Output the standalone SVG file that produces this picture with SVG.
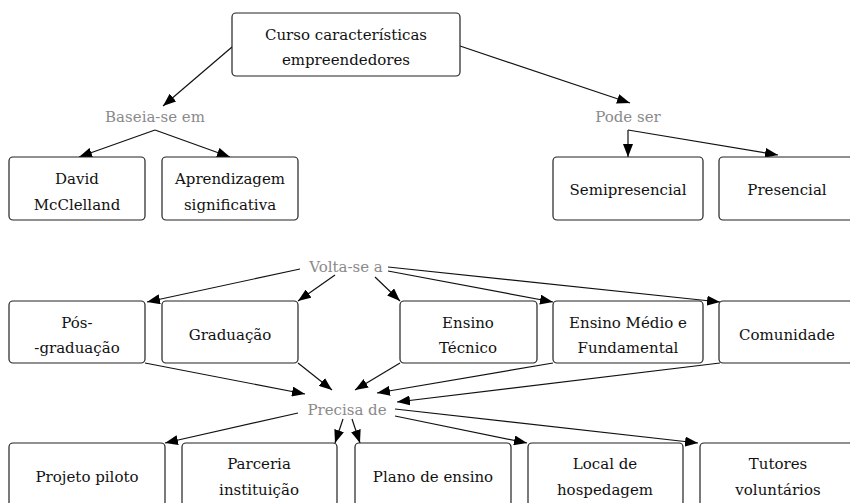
<svg xmlns="http://www.w3.org/2000/svg" width="850" height="503" viewBox="0 0 850 503">
<defs>
<marker id="ah" markerUnits="userSpaceOnUse" markerWidth="14" markerHeight="10" refX="13" refY="5" orient="auto">
<path d="M0,0 L13,5 L0,10 z" fill="#000"/>
</marker>
<style>
.box{fill:#fff;stroke:#222;stroke-width:1.2}
.t{font-family:'DejaVu Serif','Liberation Serif',serif;font-size:15px;fill:#111;text-anchor:middle}
.lbl{font-family:'DejaVu Serif','Liberation Serif',serif;font-size:15px;fill:#8a8a8a;text-anchor:middle}
.c{stroke:#111;stroke-width:1.2;fill:none;marker-end:url(#ah)}
</style>
</defs>
<rect width="850" height="503" fill="#fff"/>
<g id="connectors">
<line class="c" x1="232" y1="47" x2="163" y2="106"/>
<line class="c" x1="460" y1="46" x2="630" y2="103"/>
<line class="c" x1="155" y1="130" x2="79" y2="157"/>
<line class="c" x1="155" y1="130" x2="230" y2="157"/>
<polyline class="c" points="628,130 628,157"/>
<line class="c" x1="628" y1="130" x2="778" y2="155"/>
<line class="c" x1="300" y1="269" x2="147" y2="302"/>
<line class="c" x1="335" y1="275" x2="298" y2="301"/>
<line class="c" x1="375" y1="277" x2="400" y2="301"/>
<line class="c" x1="388" y1="271" x2="553" y2="302"/>
<line class="c" x1="388" y1="267" x2="720" y2="302"/>
<line class="c" x1="145" y1="363" x2="305" y2="394"/>
<line class="c" x1="298" y1="363" x2="332" y2="390"/>
<line class="c" x1="400" y1="363" x2="355" y2="390"/>
<line class="c" x1="553" y1="363" x2="377" y2="393"/>
<line class="c" x1="720" y1="363" x2="397" y2="402"/>
<line class="c" x1="298" y1="413" x2="165" y2="443"/>
<line class="c" x1="343" y1="419" x2="335" y2="443"/>
<line class="c" x1="352" y1="419" x2="360" y2="443"/>
<line class="c" x1="395" y1="416" x2="527" y2="443"/>
<line class="c" x1="395" y1="409" x2="698" y2="443"/>
</g>
<g id="curso"><rect class="box" x="232" y="13" width="228" height="63" rx="4"/><text class="t" x="346" y="40">Curso características</text><text class="t" x="346" y="65">empreendedores</text></g>
<g id="baseia"><text class="lbl" x="155" y="122">Baseia-se em</text></g>
<g id="podeser"><text class="lbl" x="628" y="122">Pode ser</text></g>
<g id="david"><rect class="box" x="9" y="157" width="136" height="63" rx="4"/><text class="t" x="77" y="184">David</text><text class="t" x="77" y="210">McClelland</text></g>
<g id="aprend"><rect class="box" x="162" y="157" width="136" height="63" rx="4"/><text class="t" x="230" y="184">Aprendizagem</text><text class="t" x="230" y="210">significativa</text></g>
<g id="semi"><rect class="box" x="553" y="157" width="150" height="63" rx="4"/><text class="t" x="628" y="195">Semipresencial</text></g>
<g id="pres"><rect class="box" x="719" y="157" width="136" height="63" rx="4"/><text class="t" x="787" y="195">Presencial</text></g>
<g id="volta"><text class="lbl" x="346" y="272">Volta-se a</text></g>
<g id="pos"><rect class="box" x="9" y="301" width="136" height="62" rx="4"/><text class="t" x="77" y="328">Pós-</text><text class="t" x="77" y="353">-graduação</text></g>
<g id="grad"><rect class="box" x="162" y="301" width="136" height="62" rx="4"/><text class="t" x="230" y="340">Graduação</text></g>
<g id="tecnico"><rect class="box" x="400" y="301" width="137" height="62" rx="4"/><text class="t" x="468" y="328">Ensino</text><text class="t" x="468" y="353">Técnico</text></g>
<g id="medio"><rect class="box" x="553" y="301" width="150" height="62" rx="4"/><text class="t" x="628" y="328">Ensino Médio e</text><text class="t" x="628" y="353">Fundamental</text></g>
<g id="comunidade"><rect class="box" x="719" y="301" width="136" height="62" rx="4"/><text class="t" x="787" y="340">Comunidade</text></g>
<g id="precisa"><text class="lbl" x="347" y="415">Precisa de</text></g>
<g id="projeto"><rect class="box" x="9" y="443" width="156" height="63" rx="4"/><text class="t" x="87" y="482">Projeto piloto</text></g>
<g id="parceria"><rect class="box" x="182" y="443" width="155" height="63" rx="4"/><text class="t" x="259" y="469">Parceria</text><text class="t" x="259" y="495">instituição</text></g>
<g id="plano"><rect class="box" x="355" y="443" width="156" height="63" rx="4"/><text class="t" x="433" y="482">Plano de ensino</text></g>
<g id="local"><rect class="box" x="528" y="443" width="155" height="63" rx="4"/><text class="t" x="605" y="469">Local de</text><text class="t" x="605" y="495">hospedagem</text></g>
<g id="tutores"><rect class="box" x="700" y="443" width="156" height="63" rx="4"/><text class="t" x="778" y="469">Tutores</text><text class="t" x="778" y="495">voluntários</text></g>
</svg>
